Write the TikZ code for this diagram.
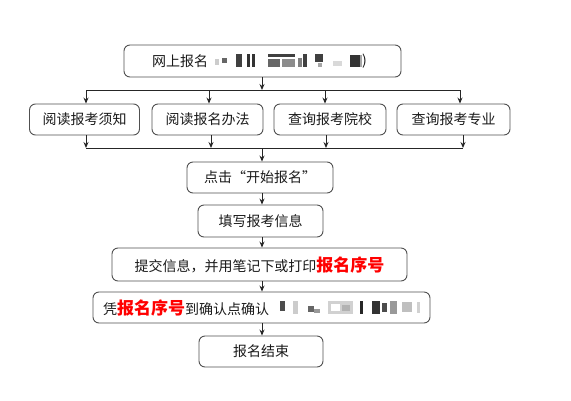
\documentclass[tikz,border=0pt]{standalone}
\usepackage{fontspec}
\setmainfont{Noto Sans CJK SC}
\newfontfamily\cjk{Noto Sans CJK SC}
\usetikzlibrary{arrows.meta}
\definecolor{boxline}{HTML}{505050}
\definecolor{txt}{HTML}{1A1A1A}
\tikzset{
  box/.style={draw=boxline, line width=0.9pt, rounded corners=6pt, inner sep=0pt,
    minimum height=31pt, text=txt, font=\cjk\fontsize{14}{15}\selectfont},
  plain/.style={inner sep=0pt, text=txt, font=\cjk\fontsize{14}{15}\selectfont},
  arr/.style={draw=black!85, line width=0.9pt, -{Stealth[length=6pt,width=5pt]}},
  bus/.style={draw=black!85, line width=0.9pt},
}
\newcommand{\redtxt}[1]{{\color{red}\bfseries\fontsize{17}{17}\selectfont #1}}
\begin{document}
\begin{tikzpicture}[x=1pt,y=-1pt]
\useasboundingbox (0,0) rectangle (571,400);
\fill[white] (0,0) rectangle (571,400);
% top box
\node[box, minimum width=277pt, minimum height=32pt] (top) at (262.5,61) {};
\node[plain, anchor=west] (toptxt) at (152,61) {网上报名};
% pixelated part of top box
\begin{scope}
\fill[black!20] (215,59) rectangle (219,65);
\fill[black!60] (222,58) rectangle (227,63);
\fill[black!75] (236,54) rectangle (242,67);
\fill[black!80] (247,54) rectangle (250,67);
\fill[black!80] (252,54) rectangle (255,67);
\fill[black!75] (268,54) rectangle (295,57);
\fill[black!60] (268,59) rectangle (280,67);
\fill[black!45] (282,59) rectangle (295,67);
\fill[black!50] (298,58) rectangle (302,67);
\fill[black!75] (303,54) rectangle (307,67);
\fill[black!75] (315,54) rectangle (323,62);
\fill[black!35] (318,63) rectangle (322,67);
\fill[black!15] (333,61) rectangle (342,66);
\fill[black!80] (350,55) rectangle (360,67);
\fill[black!35] (360,55) rectangle (362,67);
\end{scope}
\node[plain, anchor=west] (toppar) at (362,61) {)};
% second row
\node[box, minimum width=110pt] (b1) at (84.5,119.5) {阅读报考须知};
\node[box, minimum width=111pt] (b2) at (207.5,119.5) {阅读报名办法};
\node[box, minimum width=112pt] (b3) at (330,119.5) {查询报考院校};
\node[box, minimum width=113pt] (b4) at (453.5,119.5) {查询报考专业};
% bus coordinates
\coordinate (ta) at (262,90);
\coordinate (t1) at (86,90);
\coordinate (t2) at (209,90);
\coordinate (t3) at (325,90);
\coordinate (t4) at (460,90);
\coordinate (ba) at (262,148);
\coordinate (u1) at (86,148);
\coordinate (u2) at (211,148);
\coordinate (u3) at (326,148);
\coordinate (u4) at (463,148);
\draw[arr] (top.south -| ta) -- (ta);
\draw[bus] (t1) -- (t4);
\draw[arr] (t1) -- (t1 |- b1.north);
\draw[arr] (t2) -- (t2 |- b2.north);
\draw[arr] (t3) -- (t3 |- b3.north);
\draw[arr] (t4) -- (t4 |- b4.north);
\draw[arr] (u1 |- b1.south) -- (u1);
\draw[arr] (u2 |- b2.south) -- (u2);
\draw[arr] (u3 |- b3.south) -- (u3);
\draw[arr] (u4 |- b4.south) -- (u4);
\draw[bus] (u1) -- (u4);
% lower column
\node[box, minimum width=146pt] (c1) at (260,177.5) {点击“开始报名”};
\node[box, minimum width=125pt, minimum height=32pt] (c2) at (260.5,221) {填写报考信息};
\node[box, minimum width=295pt, minimum height=33pt] (c3) at (259.5,264.5) {提交信息，并用笔记下或打印\redtxt{报名序号}};
\node[box, minimum width=337pt] (c4) at (261.5,307.5) {};
\node[plain, anchor=west] (c4txt) at (103,308) {凭\redtxt{报名序号}到确认点确认};
\begin{scope}
\fill[black!70] (280,301) rectangle (285,311);
\fill[black!20] (293,301) rectangle (298,314);
\fill[black!60] (308,306) rectangle (314,312);
\fill[black!40] (314,309) rectangle (320,313);
\fill[black!18] (328,301) rectangle (353,314);
\fill[white] (331,304) rectangle (340,311);
\fill[black!30] (342,305) rectangle (350,311);
\fill[black!85] (360,301) rectangle (363,314);
\fill[black!80] (372,301) rectangle (380,314);
\fill[black!70] (382,303) rectangle (387,312);
\fill[black!40] (390,301) rectangle (397,314);
\fill[black!25] (402,302) rectangle (412,312);
\fill[black!18] (417,302) rectangle (420,313);
\end{scope}
\node[box, minimum width=124pt] (c5) at (261,351.5) {报名结束};
\coordinate (cx) at (262,0);
\draw[arr] (ba) -- (ba |- c1.north);
\draw[arr] (c1.south -| cx) -- (c2.north -| cx);
\draw[arr] (c2.south -| cx) -- (c3.north -| cx);
\draw[arr] (c3.south -| cx) -- (c4.north -| cx);
\draw[arr] (c4.south -| cx) -- (c5.north -| cx);
\end{tikzpicture}
\end{document}
